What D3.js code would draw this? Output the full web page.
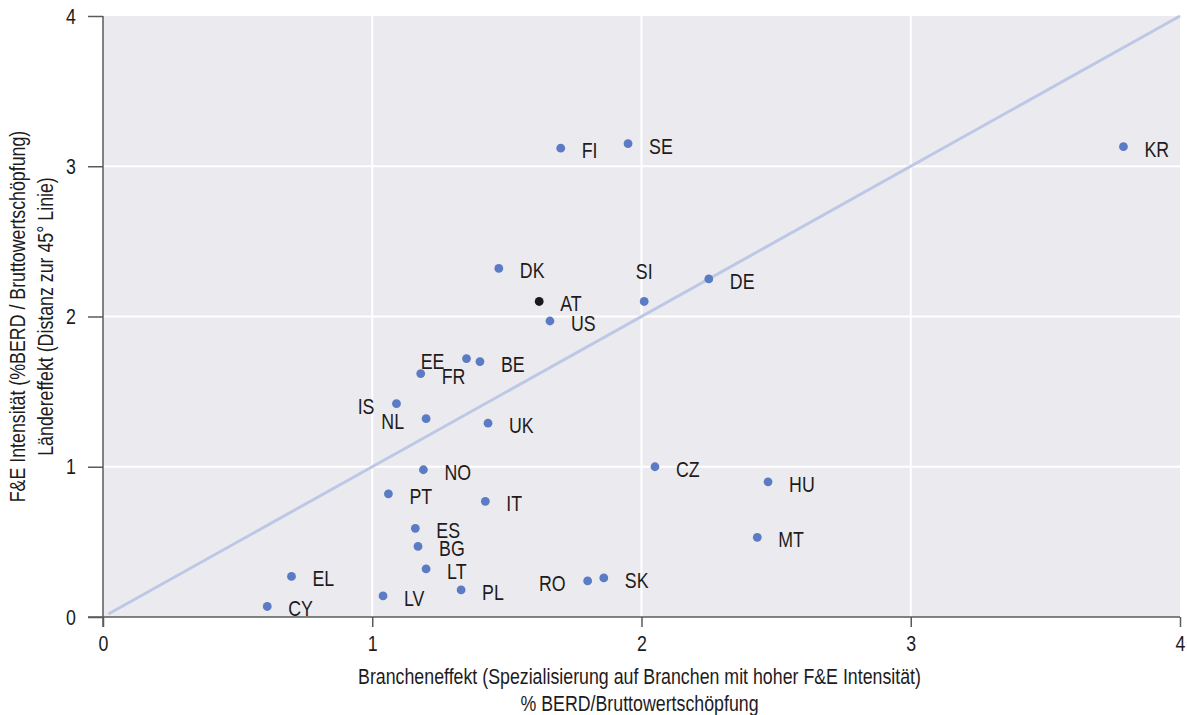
<!DOCTYPE html>
<html>
<head>
<meta charset="utf-8">
<script src="https://cdn.jsdelivr.net/npm/d3@7"></script>
<style>
  html, body { margin: 0; padding: 0; background: #ffffff; }
  svg { display: block; }
</style>
</head>
<body>
<svg id="chart" width="1187" height="715"></svg>
<script>
// ---- data ----
const countries = ["FI","SE","KR","DK","SI","DE","AT","US","EE","BE","FR","IS","NL","UK","NO","CZ","HU","PT","IT","MT","ES","BG","LT","PL","RO","SK","EL","CY","LV"];
const branchenEffekt = [1.70,1.95,3.79,1.47,2.01,2.25,1.62,1.66,1.35,1.40,1.18,1.09,1.20,1.43,1.19,2.05,2.47,1.06,1.42,2.43,1.16,1.17,1.20,1.33,1.80,1.86,0.70,0.61,1.04];
const feIntensitaet = [3.12,3.15,3.13,2.32,2.10,2.25,2.10,1.97,1.72,1.70,1.62,1.42,1.32,1.29,0.98,1.00,0.90,0.82,0.77,0.53,0.59,0.47,0.32,0.18,0.24,0.26,0.27,0.07,0.14];
// label placement: r = right, l = left, t = top
const labelSide = ["r","r","r","r","t","r","r","r","l","r","r","l","l","r","r","r","r","r","r","r","r","r","r","r","l","r","r","r","r"];
const highlight = ["AT"];
const xTicks = [0,1,2,3,4];
const yTicks = [0,1,2,3,4];
const xTitle = ["Brancheneffekt (Spezialisierung auf Branchen mit hoher F&E Intensität)", "% BERD/Bruttowertschöpfung"];
const yTitle = ["F&E Intensität (%BERD / Bruttowertschöpfung)", "Ländereffekt (Distanz zur 45° Linie)"];

// ---- layout ----
const W = 1187, H = 715;
const m = {left: 103, right: 7, top: 16, bottom: 98};
const pw = W - m.left - m.right, ph = H - m.top - m.bottom;
const FONT = "'Liberation Sans Narrow', 'Liberation Sans', Arial, sans-serif";
const FS = 22;
const TEXT = "#1e1b1c";

const svg = d3.select("#chart");

// measure to get a condensed horizontal scale
const probe = svg.append("text").attr("font-family", FONT).attr("font-size", FS).text(xTitle[0]);
const measured = probe.node().getComputedTextLength();
probe.remove();
const SX = Math.min(1, 563 / measured);

const x = d3.scaleLinear().domain([0, 4]).range([0, pw]);
const y = d3.scaleLinear().domain([0, 4]).range([ph, 0]);

const g = svg.append("g").attr("transform", `translate(${m.left},${m.top})`);

g.append("rect").attr("width", pw).attr("height", ph).attr("fill", "#ebebef");

// grid
g.append("g").selectAll("line").data(xTicks.filter(d => d > 0 && d < 4)).join("line")
  .attr("x1", d => x(d)).attr("x2", d => x(d)).attr("y1", 0).attr("y2", ph)
  .attr("stroke", "#ffffff").attr("stroke-width", 2);
g.append("g").selectAll("line").data(yTicks.filter(d => d > 0 && d < 4)).join("line")
  .attr("y1", d => y(d)).attr("y2", d => y(d)).attr("x1", 0).attr("x2", pw)
  .attr("stroke", "#ffffff").attr("stroke-width", 2);

// 45° line
g.append("line")
  .attr("x1", x(0.02)).attr("y1", y(0.02)).attr("x2", x(4)).attr("y2", y(4))
  .attr("stroke", "#bdc7e6").attr("stroke-width", 3);

function condense(sel) {
  sel.each(function() {
    const t = d3.select(this);
    const tx = +t.attr("x") || 0, ty = +t.attr("y") || 0;
    t.attr("x", 0).attr("y", 0)
     .attr("transform", `translate(${tx},${ty}) scale(${SX},1)`);
  });
}

// axes
const xAxis = g.append("g").attr("transform", `translate(0,${ph})`)
  .call(d3.axisBottom(x).tickValues(xTicks).tickFormat(d3.format("d")).tickSize(10).tickPadding(8));
const yAxis = g.append("g")
  .call(d3.axisLeft(y).tickValues(yTicks).tickFormat(d3.format("d")).tickSize(15).tickPadding(12));
[xAxis, yAxis].forEach(a => {
  a.select(".domain").remove();
  a.selectAll(".tick line").attr("stroke", "#5a5a5a").attr("stroke-width", 1.5);
  a.selectAll(".tick text").attr("font-family", FONT).attr("font-size", FS).attr("fill", TEXT).call(condense);
});
// axis lines (extend to tick length like the reference)
g.append("line").attr("x1", -15).attr("x2", pw).attr("y1", ph).attr("y2", ph)
  .attr("stroke", "#5a5a5a").attr("stroke-width", 1.5);
g.append("line").attr("x1", 0).attr("x2", 0).attr("y1", 0).attr("y2", ph + 10)
  .attr("stroke", "#5a5a5a").attr("stroke-width", 1.5);

// points
const pts = countries.map((c, i) => ({c, x: branchenEffekt[i], y: feIntensitaet[i], side: labelSide[i]}));
g.append("g").selectAll("circle").data(pts).join("circle")
  .attr("cx", d => x(d.x)).attr("cy", d => y(d.y)).attr("r", 4.4)
  .attr("fill", d => highlight.includes(d.c) ? "#1a1a1a" : "#5b7bc4");

// labels
g.append("g").selectAll("text").data(pts).join("text")
  .attr("font-family", FONT).attr("font-size", FS).attr("fill", TEXT)
  .attr("text-anchor", d => d.side === "l" ? "end" : d.side === "t" ? "middle" : "start")
  .attr("transform", d => {
    const px = x(d.x), py = y(d.y);
    let tx, ty;
    if (d.side === "l") { tx = px - 22; ty = py + 10; }
    else if (d.side === "t") { tx = px; ty = py - 22; }
    else { tx = px + 21; ty = py + 10; }
    return `translate(${tx},${ty}) scale(${SX},1)`;
  })
  .text(d => d.c);

// axis titles
const xt = svg.append("g").attr("font-family", FONT).attr("font-size", FS).attr("fill", TEXT);
xTitle.forEach((t, i) => {
  xt.append("text").attr("text-anchor", "middle")
    .attr("transform", `translate(${m.left + pw / 2 - 2},${684 + i * 27}) scale(${SX},1)`)
    .text(t);
});
const yt = svg.append("g").attr("font-family", FONT).attr("font-size", FS).attr("fill", TEXT);
yTitle.forEach((t, i) => {
  yt.append("text").attr("text-anchor", "middle")
    .attr("transform", `translate(${25 + i * 28},${m.top + ph / 2}) rotate(-90) scale(${SX},1)`)
    .text(t);
});
</script>
</body>
</html>
